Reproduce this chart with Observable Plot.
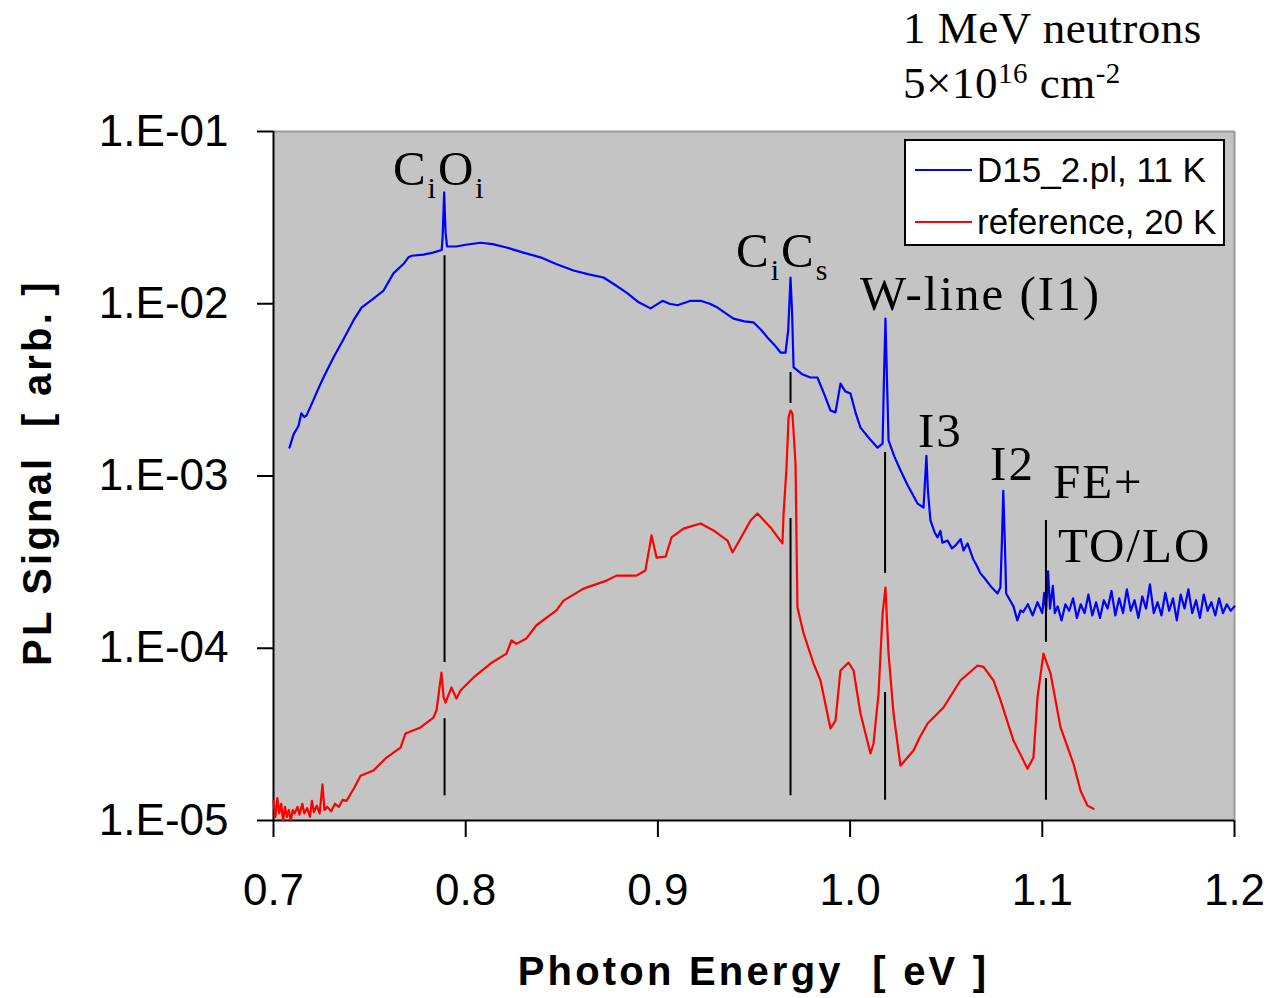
<!DOCTYPE html>
<html>
<head>
<meta charset="utf-8">
<script src="https://cdn.jsdelivr.net/npm/d3@7"></script>
<script src="https://cdn.jsdelivr.net/npm/@observablehq/plot@0.6"></script>
<style>
  html, body { margin: 0; padding: 0; background: #fff; }
  #chart svg g[aria-label^="x-axis"], #chart svg g[aria-label^="y-axis"] { stroke-width: 2px; }
</style>
</head>
<body>
<div id="chart"></div>
<script>
// ---------- data ----------
const xTicks = [0.7, 0.8, 0.9, 1.0, 1.1, 1.2];
const xTickLabels = ["0.7", "0.8", "0.9", "1.0", "1.1", "1.2"];
const yTicks = [1e-5, 1e-4, 1e-3, 1e-2, 1e-1];
const yTickLabels = ["1.E-05", "1.E-04", "1.E-03", "1.E-02", "1.E-01"];

const seriesNames = ["D15_2.pl, 11 K", "reference, 20 K"];
const seriesColors = ["#0000ff", "#ff0000"];

// D15_2.pl, 11 K  (photon energy [eV], PL signal [arb.])
const blueEnergy = [
  0.7083, 0.7105, 0.7130, 0.7145, 0.7160, 0.7172, 0.7200, 0.7230, 0.7260, 0.7312,
  0.7360, 0.7416, 0.7458, 0.7520, 0.7572, 0.7624, 0.7680, 0.7702, 0.7720, 0.7780,
  0.7830, 0.7875, 0.7880, 0.7888, 0.7895, 0.7903, 0.7950, 0.8000, 0.8077, 0.8140,
  0.8212, 0.8300, 0.8389, 0.8470, 0.8561, 0.8640, 0.8717, 0.8780, 0.8842, 0.8900,
  0.8962, 0.9024, 0.9060, 0.9102, 0.9170, 0.9222, 0.9270, 0.9310, 0.9393, 0.9450,
  0.9497, 0.9540, 0.9570, 0.9610, 0.9638, 0.9664, 0.9678, 0.9690, 0.9698, 0.9706,
  0.9750, 0.9794, 0.9830, 0.9870, 0.9898, 0.9924, 0.9950, 0.9975, 1.0002, 1.0030,
  1.0054, 1.0100, 1.0143, 1.0169, 1.0176, 1.0184, 1.0192, 1.0200, 1.0230, 1.0262,
  1.0300, 1.0351, 1.0382, 1.0390, 1.0397, 1.0405, 1.0418, 1.0440, 1.0455, 1.0470,
  1.0480, 1.0507, 1.0530, 1.0548, 1.0575, 1.0590, 1.0611, 1.0640, 1.0660, 1.0678,
  1.0700, 1.0730, 1.0767, 1.0782, 1.0790, 1.0797, 1.0805, 1.0812, 1.0850, 1.0870,
  1.0887, 1.0900, 1.0925, 1.0950, 1.0975, 1.1000, 1.1010, 1.1020, 1.1030, 1.1040,
  1.1055, 1.1065, 1.1080, 1.1100, 1.1120, 1.1140, 1.1160, 1.1180, 1.1200, 1.1220,
  1.1240, 1.1260, 1.1280, 1.1300, 1.1320, 1.1340, 1.1360, 1.1380, 1.1400, 1.1420,
  1.1440, 1.1460, 1.1480, 1.1500, 1.1520, 1.1540, 1.1560, 1.1580, 1.1600, 1.1620,
  1.1640, 1.1660, 1.1680, 1.1700, 1.1720, 1.1740, 1.1760, 1.1780, 1.1800, 1.1820,
  1.1840, 1.1860, 1.1880, 1.1900, 1.1920, 1.1940, 1.1960, 1.1980, 1.2000
];
const blueSignal = [
  1.46e-3, 1.75e-3, 1.95e-3, 2.31e-3, 2.20e-3, 2.25e-3, 2.64e-3, 3.15e-3, 3.73e-3, 4.88e-3,
  6.10e-3, 8.00e-3, 9.50e-3, 1.07e-2, 1.19e-2, 1.50e-2, 1.72e-2, 1.86e-2, 1.90e-2, 1.93e-2,
  1.98e-2, 2.05e-2, 2.45e-2, 4.43e-2, 2.60e-2, 2.15e-2, 2.15e-2, 2.20e-2, 2.26e-2, 2.22e-2,
  2.12e-2, 1.98e-2, 1.86e-2, 1.70e-2, 1.56e-2, 1.48e-2, 1.42e-2, 1.28e-2, 1.15e-2, 1.02e-2,
  9.40e-3, 1.04e-2, 1.00e-2, 9.80e-3, 1.04e-2, 1.04e-2, 1.00e-2, 9.50e-3, 8.20e-3, 7.90e-3,
  7.80e-3, 7.00e-3, 6.37e-3, 5.70e-3, 5.21e-3, 5.21e-3, 7.00e-3, 1.42e-2, 9.00e-3, 4.27e-3,
  3.90e-3, 3.73e-3, 3.73e-3, 2.90e-3, 2.40e-3, 2.34e-3, 3.44e-3, 3.10e-3, 3.01e-3, 2.30e-3,
  1.91e-3, 1.65e-3, 1.46e-3, 1.54e-3, 3.58e-3, 8.20e-3, 3.58e-3, 1.61e-3, 1.30e-3, 1.08e-3,
  8.80e-4, 6.92e-4, 6.56e-4, 9.40e-4, 1.31e-3, 8.20e-4, 5.52e-4, 4.70e-4, 4.40e-4, 4.80e-4,
  4.10e-4, 4.22e-4, 3.80e-4, 3.95e-4, 4.30e-4, 3.70e-4, 4.06e-4, 3.30e-4, 3.00e-4, 2.72e-4,
  2.55e-4, 2.30e-4, 2.08e-4, 2.25e-4, 4.20e-4, 8.20e-4, 4.20e-4, 2.08e-4, 1.75e-4, 1.45e-4,
  1.66e-4, 1.62e-4, 1.80e-4, 1.55e-4, 1.85e-4, 1.60e-4, 2.10e-4, 1.65e-4, 2.80e-4, 1.70e-4,
  2.30e-4, 1.60e-4, 1.75e-4, 1.45e-4, 1.80e-4, 1.65e-4, 1.95e-4, 1.50e-4, 1.80e-4, 1.60e-4,
  2.05e-4, 1.55e-4, 1.85e-4, 1.50e-4, 1.90e-4, 1.70e-4, 2.15e-4, 1.55e-4, 1.95e-4, 1.60e-4,
  2.20e-4, 1.65e-4, 1.90e-4, 1.50e-4, 2.00e-4, 1.70e-4, 2.35e-4, 1.60e-4, 1.85e-4, 1.55e-4,
  2.10e-4, 1.65e-4, 1.95e-4, 1.45e-4, 2.05e-4, 1.70e-4, 2.20e-4, 1.60e-4, 1.90e-4, 1.50e-4,
  2.05e-4, 1.65e-4, 1.85e-4, 1.55e-4, 1.95e-4, 1.60e-4, 1.80e-4, 1.65e-4, 1.75e-4
];

// reference, 20 K
const redEnergy = [
  0.7000, 0.7010, 0.7020, 0.7030, 0.7040, 0.7050, 0.7060, 0.7070, 0.7080, 0.7090,
  0.7100, 0.7110, 0.7125, 0.7135, 0.7150, 0.7160, 0.7175, 0.7190, 0.7200, 0.7210,
  0.7225, 0.7240, 0.7255, 0.7265, 0.7280, 0.7300, 0.7320, 0.7340, 0.7360, 0.7380,
  0.7420, 0.7453, 0.7520, 0.7588, 0.7661, 0.7687, 0.7765, 0.7832, 0.7848, 0.7874,
  0.7885, 0.7895, 0.7926, 0.7952, 0.7973, 0.8041, 0.8129, 0.8212, 0.8238, 0.8264,
  0.8316, 0.8368, 0.8472, 0.8509, 0.8613, 0.8733, 0.8785, 0.8889, 0.8935, 0.8967,
  0.8993, 0.9040, 0.9071, 0.9133, 0.9222, 0.9289, 0.9362, 0.9388, 0.9430, 0.9482,
  0.9518, 0.9586, 0.9648, 0.9654, 0.9669, 0.9680, 0.9690, 0.9700, 0.9716, 0.9726,
  0.9758, 0.9810, 0.9846, 0.9898, 0.9924, 0.9950, 0.9992, 1.0018, 1.0054, 1.0106,
  1.0122, 1.0148, 1.0169, 1.0184, 1.0200, 1.0226, 1.0262, 1.0330, 1.0360, 1.0403,
  1.0486, 1.0574, 1.0663, 1.0694, 1.0746, 1.0783, 1.0850, 1.0923, 1.0954, 1.0975,
  1.1006, 1.1043, 1.1095, 1.1162, 1.1199, 1.1235, 1.1266
];
const redSignal = [
  1.30e-5, 1.05e-5, 1.35e-5, 1.10e-5, 1.25e-5, 1.00e-5, 1.20e-5, 1.05e-5, 1.15e-5, 1.00e-5,
  1.15e-5, 1.10e-5, 1.20e-5, 1.08e-5, 1.25e-5, 1.10e-5, 1.18e-5, 1.05e-5, 1.30e-5, 1.12e-5,
  1.22e-5, 1.10e-5, 1.62e-5, 1.15e-5, 1.20e-5, 1.13e-5, 1.25e-5, 1.20e-5, 1.32e-5, 1.30e-5,
  1.55e-5, 1.82e-5, 1.95e-5, 2.32e-5, 2.65e-5, 3.20e-5, 3.47e-5, 3.96e-5, 4.35e-5, 7.23e-5,
  5.20e-5, 4.84e-5, 5.92e-5, 5.10e-5, 5.68e-5, 6.77e-5, 8.15e-5, 9.30e-5, 1.11e-4, 1.06e-4,
  1.14e-4, 1.36e-4, 1.66e-4, 1.89e-4, 2.22e-4, 2.47e-4, 2.64e-4, 2.64e-4, 2.83e-4, 4.52e-4,
  3.36e-4, 3.40e-4, 4.40e-4, 4.95e-4, 5.30e-4, 4.83e-4, 4.22e-4, 3.60e-4, 4.34e-4, 5.52e-4,
  6.06e-4, 5.03e-4, 4.06e-4, 6.06e-4, 1.11e-3, 2.19e-3, 2.40e-3, 2.30e-3, 1.19e-3, 1.73e-4,
  1.22e-4, 8.15e-5, 6.50e-5, 3.42e-5, 3.80e-5, 7.43e-5, 8.26e-5, 7.43e-5, 4.18e-5, 2.45e-5,
  2.80e-5, 5.46e-5, 1.59e-4, 2.25e-4, 9.30e-5, 4.18e-5, 2.08e-5, 2.55e-5, 3.00e-5, 3.66e-5,
  4.53e-5, 6.50e-5, 7.94e-5, 7.80e-5, 6.50e-5, 4.98e-5, 2.91e-5, 2.00e-5, 2.32e-5, 5.18e-5,
  9.30e-5, 7.13e-5, 3.47e-5, 2.14e-5, 1.49e-5, 1.22e-5, 1.17e-5
];

// vertical marker lines (energy, from, to)
const markerEnergy = [0.789, 0.789, 0.969, 0.969, 1.0182, 1.0182, 1.1019, 1.1019];
const markerTop    = [1.9e-2, 3.9e-5, 3.99e-3, 5.66e-4, 1.37e-3, 5.53e-5, 5.52e-4, 6.67e-5];
const markerBottom = [8.26e-5, 1.39e-5, 2.64e-3, 1.39e-5, 2.72e-4, 1.31e-5, 1.08e-4, 1.31e-5];

// peak labels: parts [text, isSub], anchor energy, anchor signal (baseline)
const peakLabelParts = [
  [["C", 0], ["i", 1], ["O", 0], ["i", 1]],
  [["C", 0], ["i", 1], ["C", 0], ["s", 1]],
  [["W-line (I1)", 0]],
  [["I3", 0]],
  [["I2", 0]],
  [["FE+", 0]],
  [["TO/LO", 0]]
];
const peakLabelEnergy = [0.7624, 0.9409, 1.0054, 1.0356, 1.0731, 1.1058, 1.1084];
const peakLabelSignal = [4.87e-2, 1.62e-2, 9.14e-3, 1.46e-3, 9.4e-4, 7.4e-4, 3.15e-4];

const annotationLine1 = "1 MeV neutrons";
const annotationLine2 = [["5×10", 0], ["16", 1], [" cm", 0], ["-2", 1]];
const annotationEnergy = 1.0278;
const annotationSignal = [0.324, 0.1555];

const xTitle = "Photon Energy  [ eV ]";
const yTitle = "PL Signal  [ arb. ]";

// ---------- build ----------
const blue = blueEnergy.map((e, i) => ({e, s: blueSignal[i]}));
const red = redEnergy.map((e, i) => ({e, s: redSignal[i]}));
const markers = markerEnergy.map((e, i) => ({e, y1: markerTop[i], y2: markerBottom[i]}));

const plot = Plot.plot({
  width: 1267,
  height: 998,
  marginLeft: 273,
  marginRight: 33,
  marginTop: 131,
  marginBottom: 178,
  style: {
    fontFamily: "'Liberation Sans', Arial, sans-serif",
    fontSize: "44px",
    background: "#ffffff",
    color: "#000000",
    overflow: "visible"
  },
  x: {
    domain: [0.7, 1.2],
    ticks: xTicks,
    tickFormat: d => xTickLabels[xTicks.findIndex(t => Math.abs(t - d) < 1e-9)],
    tickSize: 17,
    tickPadding: 36,
    label: null
  },
  y: {
    type: "log",
    domain: [1e-5, 1e-1],
    ticks: yTicks,
    tickFormat: d => yTickLabels[yTicks.findIndex(t => Math.abs(Math.log10(t) - Math.log10(d)) < 1e-9)],
    tickSize: 16,
    tickPadding: 29,
    label: null
  },
  marks: [
    Plot.frame({fill: "#c4c4c4", stroke: "none"}),
    Plot.ruleY([1e-1], {stroke: "#9a9a9a", strokeWidth: 2}),
    Plot.ruleX([1.2], {stroke: "#9a9a9a", strokeWidth: 2}),
    Plot.ruleY([1e-5], {stroke: "#000", strokeWidth: 2}),
    Plot.ruleX([0.7], {stroke: "#000", strokeWidth: 2}),
    Plot.line(red, {x: "e", y: "s", stroke: seriesColors[1], strokeWidth: 2.2}),
    Plot.line(blue, {x: "e", y: "s", stroke: seriesColors[0], strokeWidth: 2.2}),
    Plot.ruleX(markers, {x: "e", y1: "y1", y2: "y2", stroke: "#000", strokeWidth: 2})
  ]
});

document.getElementById("chart").appendChild(plot);

// ---------- annotations using the plot's own scales ----------
function mkScale(name, fallback) {
  const s = plot.scale(name);
  if (s && typeof s.apply === "function") return v => s.apply(v);
  return fallback.domain(s.domain).range(s.range);
}
const fx = mkScale("x", d3.scaleLinear());
const fy = mkScale("y", d3.scaleLog());

const svg = d3.select(plot);
const serif = "'Liberation Serif', 'Times New Roman', serif";

function richText(g, parts, x, y, size, subSize, subShift, spacing) {
  const t = g.append("text")
    .attr("x", x).attr("y", y)
    .attr("text-anchor", "start")
    .attr("font-family", serif)
    .attr("font-size", size)
    .attr("letter-spacing", spacing)
    .attr("fill", "#000");
  let shifted = 0;
  parts.forEach(([txt, sub]) => {
    const want = sub ? subShift : 0;
    const ts = t.append("tspan").text(txt)
      .attr("font-size", sub ? subSize : size);
    if (want !== shifted) { ts.attr("dy", want - shifted); shifted = want; }
  });
  return t;
}

const labels = svg.append("g").attr("aria-label", "peak labels");
peakLabelParts.forEach((parts, i) => {
  richText(labels, parts, fx(peakLabelEnergy[i]), fy(peakLabelSignal[i]), 49, 30, 13, 2);
});

// top annotation
const ann = svg.append("g").attr("aria-label", "annotation");
richText(ann, [[annotationLine1, 0]], fx(annotationEnergy), fy(annotationSignal[0]), 45, 29, 0, 0.5);
richText(ann, annotationLine2, fx(annotationEnergy), fy(annotationSignal[1]), 45, 29, -15, 0.5);

// axis titles
const x0 = fx(0.7), x1 = fx(1.2), yTop = fy(1e-1), yBot = fy(1e-5);
svg.append("text")
  .attr("x", (x0 + x1) / 2).attr("y", yBot + 165)
  .attr("text-anchor", "middle")
  .attr("font-family", "'Liberation Sans', Arial, sans-serif")
  .attr("font-weight", "bold").attr("font-size", 40)
  .attr("letter-spacing", 3.2)
  .attr("fill", "#000")
  .text(xTitle);
svg.append("text")
  .attr("transform", `translate(${x0 - 222},${(yTop + yBot) / 2 - 3}) rotate(-90)`)
  .attr("text-anchor", "middle")
  .attr("font-family", "'Liberation Sans', Arial, sans-serif")
  .attr("font-weight", "bold").attr("font-size", 40)
  .attr("letter-spacing", 3.2)
  .attr("fill", "#000")
  .text(yTitle);

// legend
const lg = svg.append("g").attr("aria-label", "legend");
const lx = x1 - 329, ly = yTop + 9, lw = 319, lh = 105;
lg.append("rect").attr("x", lx).attr("y", ly).attr("width", lw).attr("height", lh)
  .attr("fill", "#fff").attr("stroke", "#000").attr("stroke-width", 2);
seriesNames.forEach((name, i) => {
  const cy = ly + 30 + i * 52;
  lg.append("line").attr("x1", lx + 10).attr("x2", lx + 67).attr("y1", cy).attr("y2", cy)
    .attr("stroke", seriesColors[i]).attr("stroke-width", 2);
  lg.append("text").attr("x", lx + 72).attr("y", cy).attr("dy", "0.35em")
    .attr("text-anchor", "start")
    .attr("font-family", "'Liberation Sans', Arial, sans-serif")
    .attr("font-size", 35).attr("fill", "#000").text(name);
});
</script>
</body>
</html>
